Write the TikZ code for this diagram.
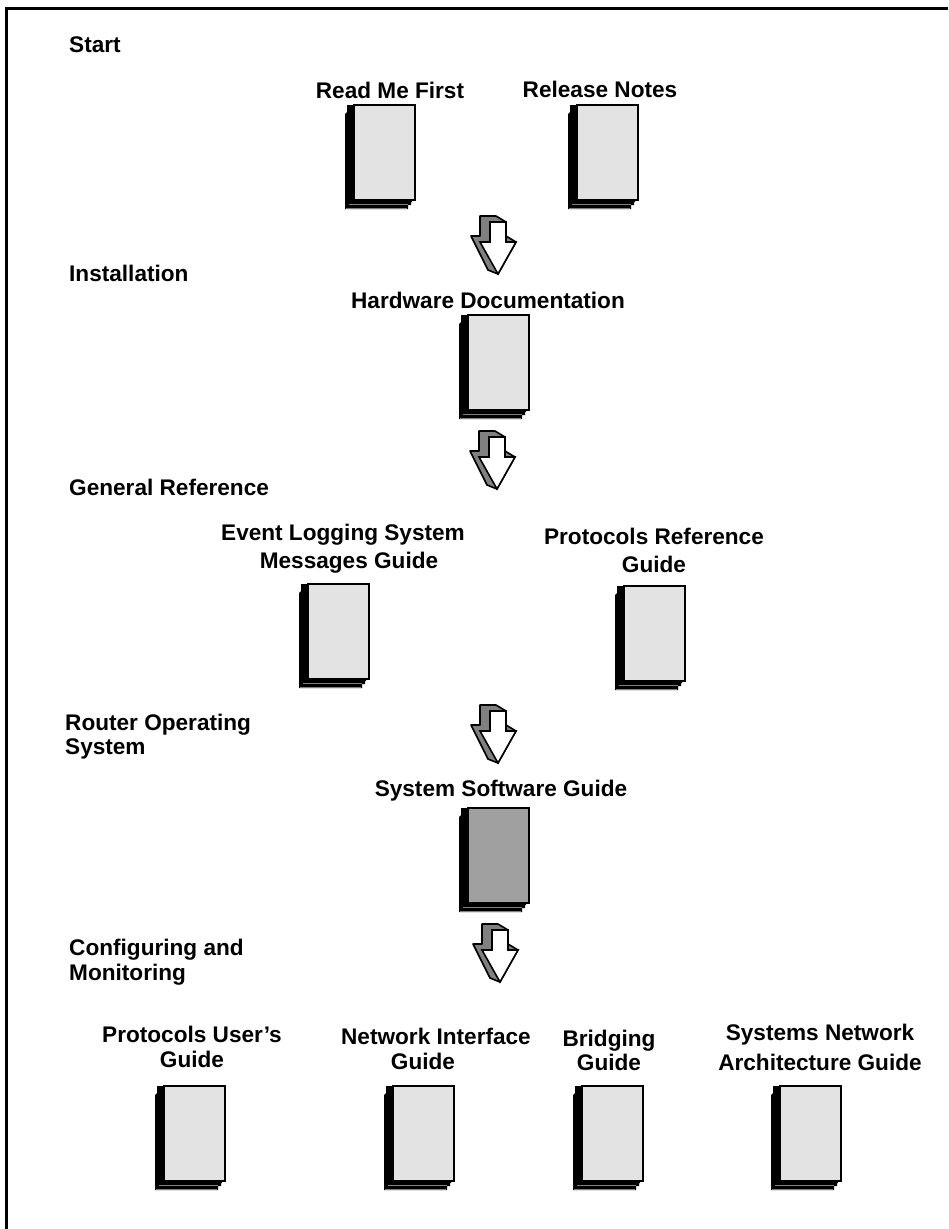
\documentclass[tikz,border=0pt]{standalone}
\usepackage{fontspec}
\setmainfont{Liberation Sans}
\definecolor{pagegrey}{HTML}{E3E3E3}
\definecolor{darkpage}{HTML}{A0A0A0}
\definecolor{arrowgrey}{HTML}{808080}
\tikzset{
  pics/book/.style={code={
    \fill[black] (-70,9) -- (-68,7) -- (-68,0) -- (-7,0) -- (-7,104) -- (-70,104) -- cycle;
    \draw[line width=.8pt,draw=arrowgrey] (-69,103) -- (-8,103);
    \fill[black] (-67,5) -- (-64,2) -- (-3,2) -- (-3,97) -- (-4,97) -- (-4,100) -- (-7,100) -- (-67,100) -- cycle;
    \draw[line width=.8pt,draw=arrowgrey] (-66,99.5) -- (-7,99.5);
    \draw[line width=2pt,fill=#1] (-61,0) rectangle (0,95);
  }},
  pics/bigarrow/.style={code={
    \draw[line width=1.6pt,fill=arrowgrey,line join=round] (-18,-58) -- (-2,-58) -- (8,-52) -- (8,-38) -- (18,-32) -- (0,0) -- (-10,-4) -- (-27,-38) -- (-18,-38) -- cycle;
    \draw[line width=1.6pt,fill=white,line join=miter] (-8,-52) -- (8,-52) -- (8,-32) -- (18,-32) -- (0,0) -- (-18,-32) -- (-8,-32) -- cycle;
  }},
  title/.style={font=\bfseries\fontsize{22.6}{28}\selectfont,align=center,inner sep=0pt},
  part/.style={font=\bfseries\fontsize{22.6}{28}\selectfont,align=left,anchor=west,inner sep=0pt}
}
\begin{document}
\begin{tikzpicture}[x=1pt,y=-1pt]
  \useasboundingbox (0,0) rectangle (948,1229);
  \draw[line width=3.5pt] (6.5,1229) -- (6.5,8.5) -- (948,8.5);

  % reading stages
  \node[part] (start) at (69,45) {Start};
  \node[part] (install) at (69,273) {Installation};
  \node[part] (genref) at (69,487) {General Reference};
  \node[part] (router) at (65,736.5) {Router Operating\\[-4pt]System};
  \node[part] (config) at (69,962.5) {Configuring and\\[-3pt]Monitoring};

  % books
  \pic at (415,105) {book=pagegrey};
  \pic at (638,105) {book=pagegrey};
  \pic at (529,315) {book=pagegrey};
  \pic at (369,584) {book=pagegrey};
  \pic at (685,586) {book=pagegrey};
  \pic at (529,808) {book=darkpage};
  \pic at (225,1086) {book=pagegrey};
  \pic at (454,1086) {book=pagegrey};
  \pic at (643,1086) {book=pagegrey};
  \pic at (841,1086) {book=pagegrey};

  \node[title] (readme) at (390,90) {Read Me First};
  \node[title] (relnotes) at (600,89) {Release Notes};
  \node[title] (hardware) at (488,300) {Hardware Documentation};
  \node[title] (evtlog) at (343,549) {Event Logging System\\Messages Guide\hspace*{-12pt}};
  \node[title] (protref) at (654,550) {Protocols Reference\\Guide};
  \node[title] (syssw) at (501,791) {System Software Guide};
  \node[title] (protuser) at (192,1047) {Protocols User's\\[-3pt]Guide};
  \node[title] (netif) at (436,1049) {Network Interface\\[-3pt]Guide\hspace*{26pt}};
  \node[title] (bridging) at (609,1050) {Bridging\\[-4pt]Guide};
  \node[title] (sna) at (820,1047) {Systems Network\\[2pt]Architecture Guide};

  % arrows
  \pic at (498,274) {bigarrow};
  \pic at (497,489) {bigarrow};
  \pic at (498,763) {bigarrow};
  \pic at (500,982) {bigarrow};
\end{tikzpicture}
\end{document}
